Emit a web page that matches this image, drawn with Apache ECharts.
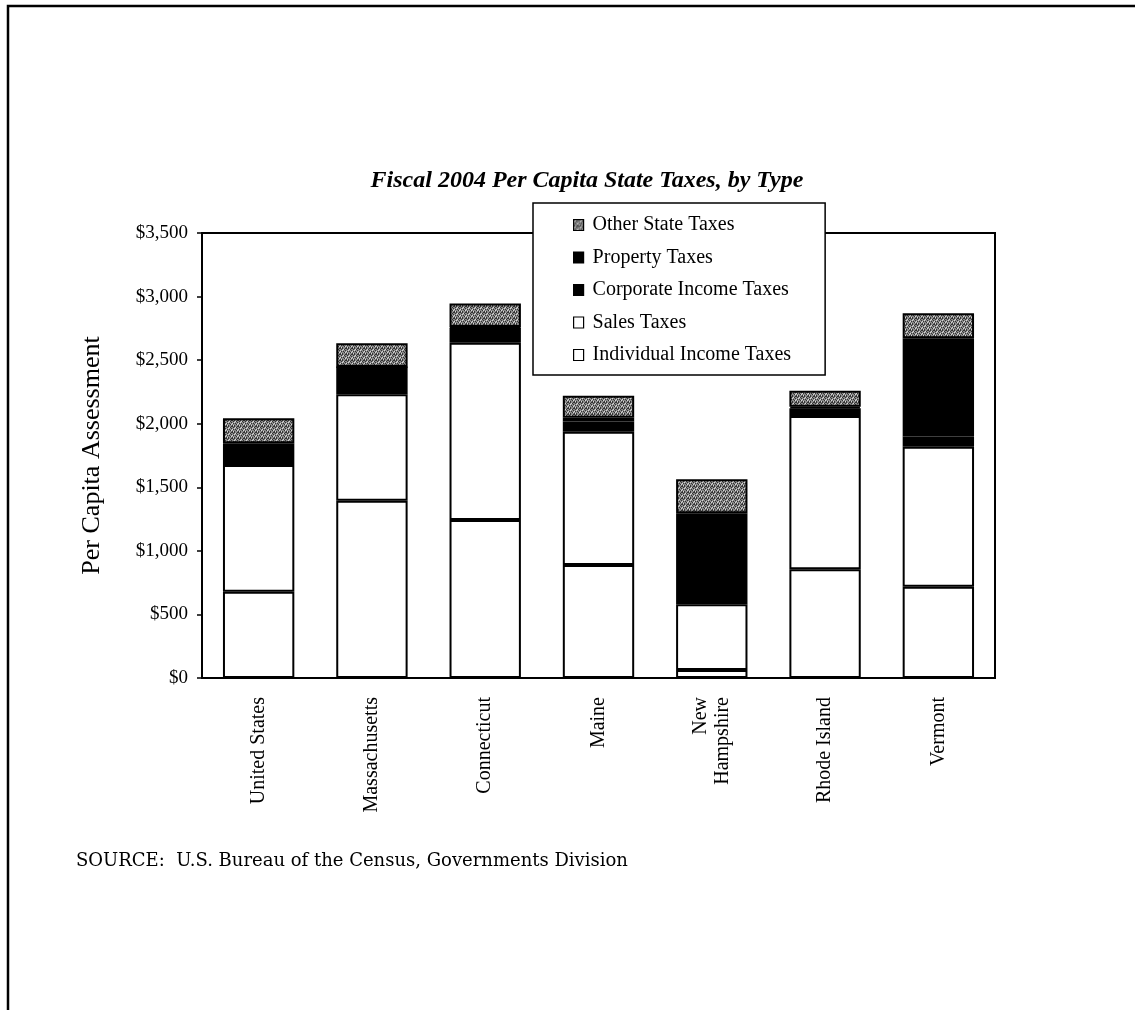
<!DOCTYPE html>
<html>
<head>
<meta charset="utf-8">
<script src="https://cdn.jsdelivr.net/npm/echarts@6/dist/echarts.min.js"></script>
<style>
  html, body { margin: 0; padding: 0; background: #fff; }
  #chart { width: 1135px; height: 1010px; }
</style>
</head>
<body>
<div id="chart"></div>
<script>
// Per capita state tax collections, fiscal 2004 (dollars)
const states = ['United States', 'Massachusetts', 'Connecticut', 'Maine', 'New\nHampshire', 'Rhode Island', 'Vermont'];
const individualIncome = [679, 1394, 1243, 889, 63, 855, 718];
const sales            = [996, 837, 1394, 1048, 517, 1206, 1101];
const corporateIncome  = [110, 215, 118, 80, 300, 60, 80];
const property         = [61, 2, 5, 30, 415, 13, 773];
const otherState       = [196, 184, 185, 173, 268, 126, 196];
const yTicks = [0, 500, 1000, 1500, 2000, 2500, 3000, 3500];

const SERIF = '"Liberation Serif", "Times New Roman", serif';
const WIDE_SERIF = '"DejaVu Serif", serif';

// Speckled halftone grey used for the "other" segment
function speckle() {
  const c = document.createElement('canvas');
  c.width = 6; c.height = 6;
  const g = c.getContext('2d');
  g.fillStyle = '#8a8a8a';
  g.fillRect(0, 0, 6, 6);
  const dark = [[0,0],[2,1],[4,0],[1,3],[3,2],[5,3],[0,5],[2,4],[4,5],[5,1],[3,0]];
  const light = [[1,1],[3,4],[5,5],[0,2],[4,3]];
  g.fillStyle = '#333';
  dark.forEach(p => g.fillRect(p[0], p[1], 1, 1));
  g.fillStyle = '#d8d8d8';
  light.forEach(p => g.fillRect(p[0], p[1], 1, 1));
  return c;
}
const greyFill = { image: speckle(), repeat: 'repeat' };

function layer(name, values, fill) {
  return {
    name: name,
    type: 'bar',
    stack: 'total',
    barWidth: '63%',
    data: values,
    itemStyle: { color: fill, borderColor: '#000', borderWidth: 2 },
    emphasis: { disabled: true }
  };
}

const legendNames = ['Other State Taxes', 'Property Taxes', 'Corporate Income Taxes', 'Sales Taxes', 'Individual Income Taxes'];

const chart = echarts.init(document.getElementById('chart'), null, { renderer: 'canvas' });
chart.setOption({
  backgroundColor: '#fff',
  animation: false,
  title: {
    text: 'Fiscal 2004 Per Capita State Taxes, by Type',
    left: 582,
    top: 164,
    textAlign: 'center',
    textStyle: { fontFamily: SERIF, fontSize: 24, fontStyle: 'italic', fontWeight: 'bold', color: '#000' }
  },
  legend: {
    orient: 'vertical',
    left: 533,
    top: 203,
    padding: [12, 34, 10, 40],
    itemGap: 12.5,
    itemWidth: 10,
    itemHeight: 11,
    icon: 'rect',
    backgroundColor: '#fff',
    borderColor: '#000',
    borderWidth: 1.5,
    borderRadius: 0,
    selectedMode: false,
    data: legendNames.map(n => ({ name: n, itemStyle: { borderColor: '#000', borderWidth: 1.2 } })),
    textStyle: { fontFamily: SERIF, fontSize: 20, color: '#000', padding: [0, 0, 0, 4] }
  },
  grid: {
    left: 202, right: 140, top: 233, bottom: 332,
    show: true, borderColor: '#000', borderWidth: 2, backgroundColor: 'transparent'
  },
  xAxis: {
    type: 'category',
    data: states,
    axisLine: { lineStyle: { color: '#000', width: 2 } },
    axisTick: { show: false },
    axisLabel: {
      rotate: 90,
      margin: 19,
      fontFamily: SERIF,
      fontSize: 20,
      color: '#000',
      lineHeight: 22
    }
  },
  yAxis: {
    type: 'value',
    min: 0,
    max: 3500,
    interval: 500,
    name: 'Per Capita Assessment',
    nameLocation: 'middle',
    nameGap: 97,
    nameRotate: 90,
    nameTextStyle: { fontFamily: SERIF, fontSize: 26, color: '#000' },
    splitLine: { show: false },
    axisLine: { show: true, lineStyle: { color: '#000', width: 2 } },
    axisTick: { show: true, length: 5, lineStyle: { color: '#000', width: 1.5 } },
    axisLabel: {
      margin: 14,
      fontFamily: SERIF,
      fontSize: 19,
      color: '#000',
      formatter: v => '$' + v.toLocaleString('en-US')
    }
  },
  series: [
    layer('Individual Income Taxes', individualIncome, '#fff'),
    layer('Sales Taxes', sales, '#fff'),
    layer('Corporate Income Taxes', corporateIncome, '#000'),
    layer('Property Taxes', property, '#000'),
    layer('Other State Taxes', otherState, greyFill)
  ],
  graphic: [
    {
      type: 'rect',
      shape: { x: 8, y: 6, width: 1200, height: 1100 },
      style: { fill: 'none', stroke: '#000', lineWidth: 2.5 },
      silent: true
    },
    {
      type: 'text',
      left: 76,
      top: 852,
      style: {
        text: 'SOURCE:  U.S. Bureau of the Census, Governments Division',
        font: '18px ' + WIDE_SERIF,
        fill: '#000'
      }
    }
  ]
});
</script>
</body>
</html>
